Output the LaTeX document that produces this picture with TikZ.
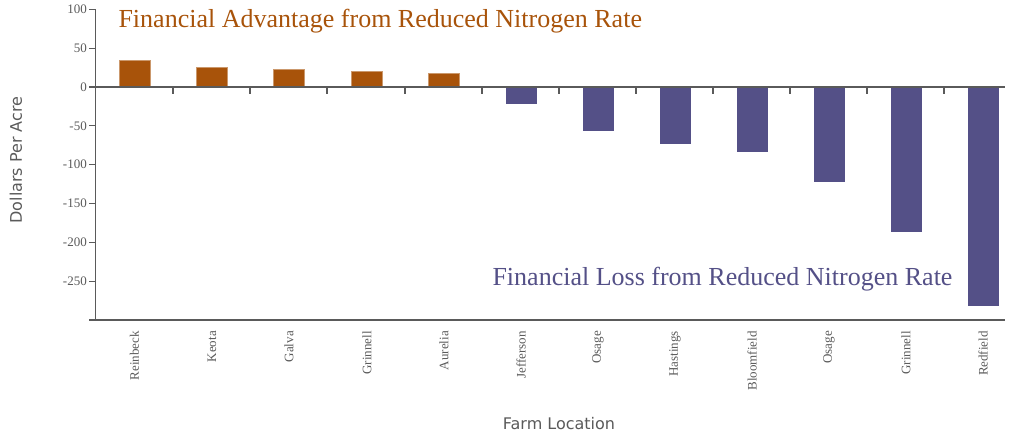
\documentclass[tikz,border=0pt]{standalone}
\usepackage{fontspec}
\setmainfont{Liberation Serif}
\setsansfont{DejaVu Sans}
\definecolor{gain}{HTML}{A8530A}
\definecolor{loss}{HTML}{545087}
\definecolor{axisgray}{HTML}{5A5A5A}
\tikzset{
  axisline/.style={axisgray, line width=1.2pt},
  bargain/.style={fill=gain, draw=gain!60!white, line width=0.4pt},
  barloss/.style={fill=loss, draw=none},
  ticklabel/.style={axisgray, font=\fontsize{13}{14}\selectfont, anchor=east, inner sep=1pt},
  farmlabel/.style={axisgray, font=\fontsize{13}{14}\selectfont, rotate=90, anchor=east, inner sep=1pt}
}
\begin{document}
\begin{tikzpicture}[x=1pt, y=-1pt]
		\useasboundingbox (0,0) rectangle (1024,439);
		% bars: x position, value
		\foreach \xc/\v/\name in {134.5/35/Reinbeck, 212/25/Keota, 289/23/Galva, 367/20/Grinnell, 444/18/Aurelia} {
			\fill[bargain] (\xc-15.5,87) rectangle (\xc+15.5,{87-0.777*\v});
			\node[farmlabel] (f-\name) at (\xc,330) {\name};
		}
		\foreach \xc/\v/\name/\k in {521/22/Jefferson/1, 598/57/Osage/2, 675/74/Hastings/3, 752/84/Bloomfield/4, 829/122/Osage/5, 906/186/Grinnell/6, 983/282/Redfield/7} {
			\fill[barloss] (\xc-15.5,87) rectangle (\xc+15.5,{87+0.777*\v});
			\node[farmlabel] (l-\k) at (\xc,330) {\name};
		}
		%achsen
		\draw[axisline] (95.5,9) -- (95.5,320);
		\draw[axisline] (89,320) -- (1005,320);
		\draw[axisline] (95.5,87) -- (1005,87);
		\foreach \v/\t in {100/100,50/50,0/0,-50/-50,-100/-100,-150/-150,-200/-200,-250/-250} {
			\draw[axisline] (89,{87-0.777*\v}) -- (95.5,{87-0.777*\v});
			\node[ticklabel] at (88,{87-0.777*\v}) {\t};
		}
		\foreach \xt in {173,250,327,405,482,559,636,713,790,867,944} {
			\draw[axisline] (\xt,87) -- (\xt,94);
		}
		%
		\node[rotate=90, font=\sffamily\fontsize{16}{18}\selectfont, axisgray] (ylab) at (16,160) {Dollars Per Acre};
		\node[font=\sffamily\fontsize{16}{18}\selectfont, axisgray] (xlab) at (559,424) {Farm Location};
		\node[gain, font=\fontsize{26}{28}\selectfont, anchor=west] (adv) at (115,21) {Financial Advantage from Reduced Nitrogen Rate};
		\node[loss, font=\fontsize{26}{28}\selectfont, anchor=east] (los) at (956,279) {Financial Loss from Reduced Nitrogen Rate};
	\end{tikzpicture}
\end{document}
